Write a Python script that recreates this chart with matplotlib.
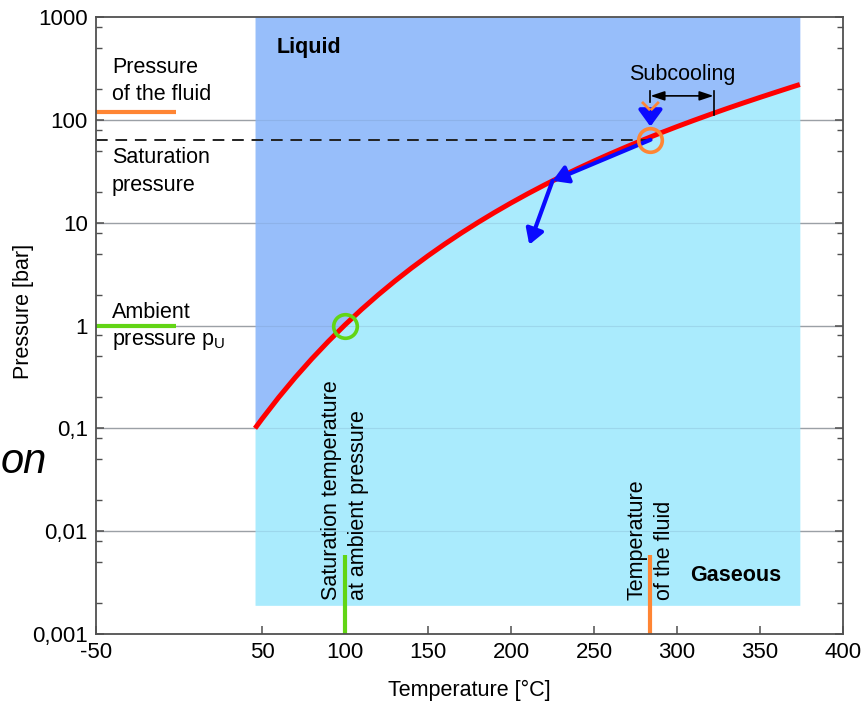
import matplotlib
matplotlib.use('Agg')
import matplotlib.pyplot as plt
from matplotlib.ticker import FixedLocator, NullFormatter

# ---------------- data ----------------
sat_temp = [45.8, 50, 60, 70, 80, 90, 100, 110, 120, 130, 140, 150, 160, 170, 180,
            190, 200, 210, 220, 230, 240, 250, 260, 270, 280, 290, 300, 310, 320,
            330, 340, 350, 360, 370, 374]
sat_press = [0.1, 0.1235, 0.1995, 0.312, 0.4741, 0.7018, 1.0142, 1.4338, 1.9867,
             2.7026, 3.615, 4.761, 6.1814, 7.9205, 10.026, 12.55, 15.547, 19.074,
             23.193, 27.968, 33.467, 39.759, 46.921, 55.028, 64.165, 74.416, 85.877,
             98.647, 112.84, 128.58, 146.0, 165.29, 186.66, 210.43, 220.6]

region_bottom = 0.0019
region_top = 1000

fluid_temp = 284
fluid_press = 120
fluid_sat_press = 64
ambient_press = 1
ambient_sat_temp = 100
subcool_end_temp = 322

path_T = [284, 225, 211]
path_p = [64, 25.5, 6.1]

x_ticks = [-50, 50, 100, 150, 200, 250, 300, 350, 400]
x_tick_labels = ['-50', '50', '100', '150', '200', '250', '300', '350', '400']
y_ticks = [0.001, 0.01, 0.1, 1, 10, 100, 1000]
y_tick_labels = ['0,001', '0,01', '0,1', '1', '10', '100', '1000']
y_minor = [m * 10.0 ** e for e in range(-3, 3) for m in (2, 5, 8)]
grid_levels = [0.01, 0.1, 1, 10, 100]

# ---------------- style ----------------
FONT = ['Liberation Sans', 'DejaVu Sans']
plt.rcParams['font.family'] = FONT
FS = 15.5
TFS = 16
LS = 1.4
LIQ = '#97BEFA'
GAS = '#AAEBFD'
ORANGE = '#FF8533'
GREEN = '#62D515'
BLUE = '#0A0AFF'
AX = '#505050'

fig = plt.figure(figsize=(8.62, 7.05), dpi=100)
ax = fig.add_axes([96 / 862, 71 / 705, 747 / 862, 617 / 705])
ax.set_xlim(-50, 400)
ax.set_yscale('log')
ax.set_ylim(0.001, 1000)

# grid under fills
for g in grid_levels:
    ax.axhline(g, color='#a8a8a8', lw=1.0, zorder=0.5)

ax.fill_between(sat_temp, sat_press, region_top, color=LIQ, lw=0, zorder=1)
ax.fill_between(sat_temp, region_bottom, sat_press, color=GAS, lw=0, zorder=1)

# faint grid over fills
for g in grid_levels:
    ax.axhline(g, color='#6080a0', lw=0.8, alpha=0.18, zorder=1.5)

ax.plot(sat_temp, sat_press, color='#FF0000', lw=3.6, zorder=3, solid_capstyle='butt')

# dashed saturation pressure
ax.plot([-50, 288], [fluid_sat_press, fluid_sat_press], color='#222222', lw=1.4,
        dashes=(6, 4), zorder=4)

# left reference bars
ax.plot([-50, -2], [fluid_press, fluid_press], color=ORANGE, lw=3, zorder=4,
        solid_capstyle='butt')
ax.plot([-50, -2], [ambient_press, ambient_press], color=GREEN, lw=3, zorder=4,
        solid_capstyle='butt')

# bottom vertical bars
ax.plot([ambient_sat_temp, ambient_sat_temp], [0.001, 0.0058], color=GREEN, lw=3,
        zorder=4, solid_capstyle='butt')
ax.plot([fluid_temp, fluid_temp], [0.001, 0.0058], color=ORANGE, lw=3, zorder=4,
        solid_capstyle='butt')

# circles
ax.plot([ambient_sat_temp], [ambient_press], marker='o', ms=17, mfc='none',
        mec=GREEN, mew=2.6, zorder=6)
ax.plot([fluid_temp], [fluid_sat_press], marker='o', ms=17, mfc='none',
        mec=ORANGE, mew=2.6, zorder=6)

# blue arrows
ax.annotate('', xy=(fluid_temp, 86), xytext=(fluid_temp, 124),
            arrowprops=dict(arrowstyle='-|>,head_length=0.55,head_width=0.4',
                            color=BLUE, lw=3, mutation_scale=18,
                            shrinkA=0, shrinkB=0), zorder=5)
ax.annotate('', xy=(path_T[1], path_p[1]), xytext=(path_T[0], path_p[0]),
            arrowprops=dict(arrowstyle='-|>,head_length=0.5,head_width=0.3',
                            color=BLUE, lw=3, mutation_scale=18,
                            shrinkA=0, shrinkB=0), zorder=5)
ax.annotate('', xy=(path_T[2], path_p[2]), xytext=(path_T[1], path_p[1]),
            arrowprops=dict(arrowstyle='-|>,head_length=0.5,head_width=0.3',
                            color=BLUE, lw=3, mutation_scale=18,
                            shrinkA=0, shrinkB=0), zorder=5)

# orange V mark
ax.plot([279.5, 283.2], [146, 127], color=ORANGE, lw=2, zorder=6)
ax.plot([288.5, 284.8], [146, 127], color=ORANGE, lw=2, zorder=6)

# subcooling annotation
ax.plot([fluid_temp, fluid_temp], [192, 150], color='black', lw=1.2, zorder=6)
ax.plot([subcool_end_temp, subcool_end_temp], [192, 112], color='black', lw=1.2, zorder=6)
ax.annotate('', xy=(fluid_temp, 171), xytext=(subcool_end_temp, 171),
            arrowprops=dict(arrowstyle='<|-|>,head_length=0.6,head_width=0.2',
                            color='black', lw=1.2, shrinkA=0, shrinkB=0,
                            mutation_scale=14), zorder=6)
ax.text(303, 275, 'Subcooling', ha='center', va='center', fontsize=FS, zorder=7)

# region labels
ax.text(59, 500, 'Liquid', ha='left', va='center', fontsize=FS, fontweight='bold', zorder=7)
ax.text(308, 0.0037, 'Gaseous', ha='left', va='center', fontsize=FS, fontweight='bold', zorder=7)

# left labels (va='baseline' -> last line's baseline)
ax.text(-40.5, 156, 'Pressure\nof the fluid', ha='left', va='baseline', fontsize=FS,
        linespacing=LS, zorder=7)
ax.text(-40.5, 20.5, 'Saturation\npressure', ha='left', va='baseline', fontsize=FS,
        linespacing=LS, zorder=7)
ax.text(-40.5, 0.64, 'Ambient\npressure p$_\\mathregular{U}$', ha='left', va='baseline',
        fontsize=FS, linespacing=LS, zorder=7)

# rotated labels
ax.text(ambient_sat_temp, 0.00215, 'Saturation temperature\nat ambient pressure',
        rotation=90, ha='center', va='bottom', multialignment='left',
        fontsize=FS, linespacing=LS, zorder=7)
ax.text(fluid_temp, 0.00215, 'Temperature\nof the fluid',
        rotation=90, ha='center', va='bottom', multialignment='left',
        fontsize=FS, linespacing=LS, zorder=7)

# axes styling
for s in ax.spines.values():
    s.set_color(AX)
    s.set_linewidth(1.3)
    s.set_zorder(8)

ax.xaxis.set_major_locator(FixedLocator(x_ticks))
ax.set_xticklabels(x_tick_labels)
ax.yaxis.set_major_locator(FixedLocator(y_ticks))
ax.set_yticklabels(y_tick_labels)
ax.yaxis.set_minor_locator(FixedLocator(y_minor))
ax.yaxis.set_minor_formatter(NullFormatter())
ax.xaxis.set_minor_locator(FixedLocator([]))
ax.tick_params(axis='both', which='major', direction='in', length=6, width=1.1,
               color=AX, labelsize=TFS, pad=6)
ax.tick_params(axis='y', which='both', right=True, direction='in')
ax.tick_params(axis='y', which='minor', length=4.5, width=1.0, color=AX)

ax.set_xlabel('Temperature [°C]', fontsize=FS, labelpad=12)
ax.set_ylabel('Pressure [bar]', fontsize=FS)
ax.yaxis.set_label_coords(-0.083, 0.523)

# text fragment at left edge
fig.text(1 / 862, (705 - 473) / 705, 'on', ha='left', va='baseline', fontsize=30,
         style='italic')

fig.savefig('out.png', dpi=100)
